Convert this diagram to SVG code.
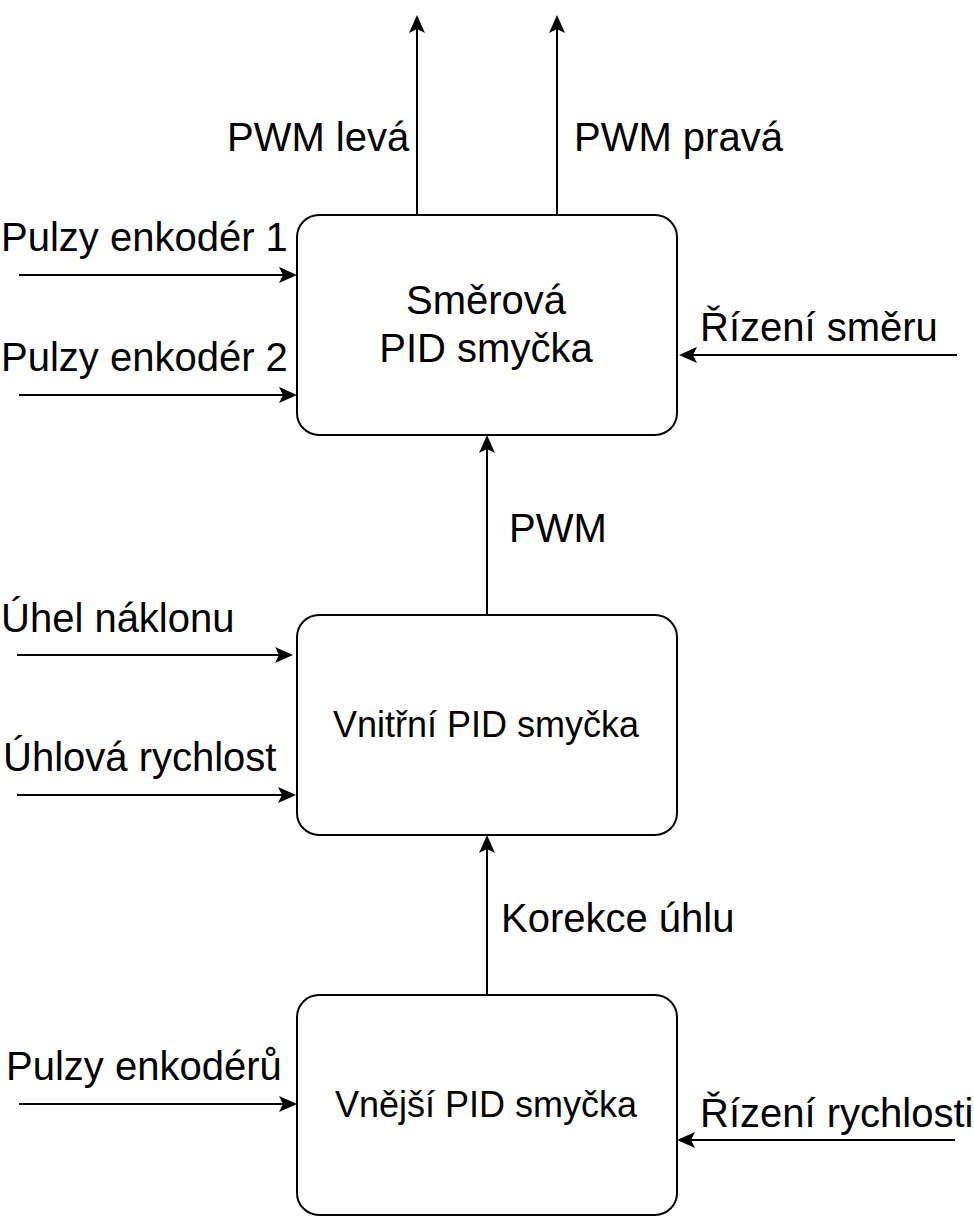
<svg xmlns="http://www.w3.org/2000/svg" width="974" height="1216" viewBox="0 0 974 1216">
<style>
.box{fill:#fff;stroke:#000;stroke-width:2}
.edge{fill:none;stroke:#000;stroke-width:2;marker-end:url(#arr)}
.lbl{font-family:"Liberation Sans",Arial,sans-serif;font-size:40px;fill:#000}
.big{font-family:"Liberation Sans",Arial,sans-serif;font-size:40px;fill:#000;text-anchor:middle}
.mid{font-family:"Liberation Sans",Arial,sans-serif;font-size:36px;fill:#000;text-anchor:middle}
</style>
<defs>
<marker id="arr" markerUnits="userSpaceOnUse" markerWidth="20" markerHeight="20" viewBox="0 -10 20 20" refX="8" refY="0" orient="auto">
<path d="M0,-8 L18,0 L0,8 L4,0 Z" fill="#000"/>
</marker>
</defs>
<g id="connectors">
<path class="edge" d="M417,215 L417,25"/>
<path class="edge" d="M557,215 L557,25"/>
<path class="edge" d="M19,275 L287,275"/>
<path class="edge" d="M19,395 L287,395"/>
<path class="edge" d="M957,355 L689,355"/>
<path class="edge" d="M487,615 L487,445"/>
<path class="edge" d="M17,655 L283,655"/>
<path class="edge" d="M17,795 L286,795"/>
<path class="edge" d="M487,995 L487,845"/>
<path class="edge" d="M19,1104 L287,1104"/>
<path class="edge" d="M955,1140 L687,1140"/>
</g>
<g id="labels">
<text class="lbl" x="227" y="151">PWM levá</text>
<text class="lbl" x="574" y="151">PWM pravá</text>
<text class="lbl" x="1" y="251">Pulzy enkodér 1</text>
<text class="lbl" x="1" y="371">Pulzy enkodér 2</text>
<text class="lbl" x="700" y="341">Řízení směru</text>
<text class="lbl" x="509" y="542">PWM</text>
<text class="lbl" x="1" y="632">Úhel náklonu</text>
<text class="lbl" x="3" y="771">Úhlová rychlost</text>
<text class="lbl" x="501" y="932">Korekce úhlu</text>
<text class="lbl" x="6" y="1080">Pulzy enkodérů</text>
<text class="lbl" x="700" y="1127">Řízení rychlosti</text>
</g>
<g id="node-smerova">
<rect class="box" x="297" y="215" width="380" height="220" rx="22" ry="22"/>
<text class="big" x="486" y="314">Směrová</text>
<text class="big" x="486" y="362">PID smyčka</text>
</g>
<g id="node-vnitrni">
<rect class="box" x="297" y="615" width="380" height="220" rx="22" ry="22"/>
<text class="mid" x="486" y="737">Vnitřní PID smyčka</text>
</g>
<g id="node-vnejsi">
<rect class="box" x="297" y="995" width="380" height="220" rx="22" ry="22"/>
<text class="mid" x="486" y="1117">Vnější PID smyčka</text>
</g>
</svg>
